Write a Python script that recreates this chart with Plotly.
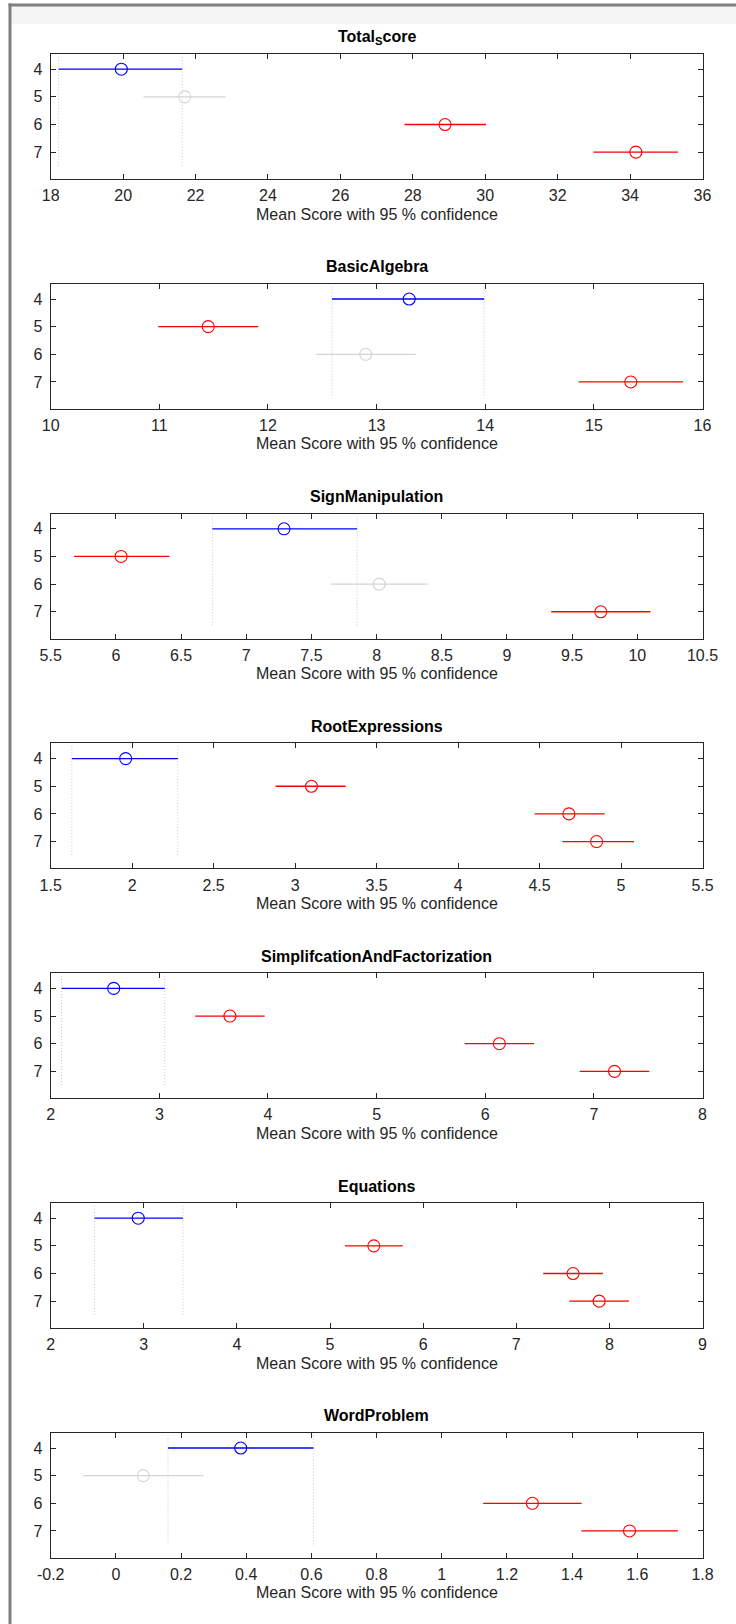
import plotly.graph_objects as go

W, H = 736, 1624

GROUPS = [4, 5, 6, 7]

SUBJECTS = ["Total<sub>S</sub>core", "BasicAlgebra", "SignManipulation", "RootExpressions",
            "SimplifcationAndFactorization", "Equations", "WordProblem"]

TOTAL_MEAN = [19.95, 21.70, 28.89, 34.16]
TOTAL_LO = [18.22, 20.56, 27.77, 32.99]
TOTAL_HI = [21.63, 22.83, 30.02, 35.32]
TOTAL_STATUS = ["selected", "ns", "sig", "sig"]

ALG_MEAN = [13.30, 11.45, 12.90, 15.34]
ALG_LO = [12.59, 10.99, 12.44, 14.86]
ALG_HI = [13.99, 11.91, 13.36, 15.82]
ALG_STATUS = ["selected", "sig", "ns", "sig"]

SIGN_MEAN = [7.29, 6.04, 8.02, 9.72]
SIGN_LO = [6.74, 5.68, 7.65, 9.34]
SIGN_HI = [7.85, 6.41, 8.39, 10.10]
SIGN_STATUS = ["selected", "sig", "ns", "sig"]

ROOT_MEAN = [1.96, 3.10, 4.68, 4.85]
ROOT_LO = [1.63, 2.88, 4.47, 4.64]
ROOT_HI = [2.28, 3.31, 4.90, 5.08]
ROOT_STATUS = ["selected", "sig", "sig", "sig"]

SIMP_MEAN = [2.58, 3.65, 6.13, 7.19]
SIMP_LO = [2.10, 3.33, 5.81, 6.87]
SIMP_HI = [3.05, 3.97, 6.45, 7.51]
SIMP_STATUS = ["selected", "sig", "sig", "sig"]

EQ_MEAN = [2.94, 5.47, 7.61, 7.89]
EQ_LO = [2.47, 5.16, 7.29, 7.57]
EQ_HI = [3.42, 5.78, 7.93, 8.21]
EQ_STATUS = ["selected", "sig", "sig", "sig"]

WORD_MEAN = [0.383, 0.084, 1.278, 1.576]
WORD_LO = [0.160, -0.100, 1.127, 1.428]
WORD_HI = [0.606, 0.269, 1.429, 1.725]
WORD_STATUS = ["selected", "ns", "sig", "sig"]

TOTAL_TICKS = [18, 20, 22, 24, 26, 28, 30, 32, 34, 36]
ALG_TICKS = [10, 11, 12, 13, 14, 15, 16]
SIGN_TICKS = [5.5, 6, 6.5, 7, 7.5, 8, 8.5, 9, 9.5, 10, 10.5]
ROOT_TICKS = [1.5, 2, 2.5, 3, 3.5, 4, 4.5, 5, 5.5]
SIMP_TICKS = [2, 3, 4, 5, 6, 7, 8]
EQ_TICKS = [2, 3, 4, 5, 6, 7, 8, 9]
WORD_TICKS = [-0.2, 0, 0.2, 0.4, 0.6, 0.8, 1, 1.2, 1.4, 1.6, 1.8]

XLABEL = "Mean Score with 95 % confidence"

panels = [
    (TOTAL_MEAN, TOTAL_LO, TOTAL_HI, TOTAL_STATUS, TOTAL_TICKS),
    (ALG_MEAN, ALG_LO, ALG_HI, ALG_STATUS, ALG_TICKS),
    (SIGN_MEAN, SIGN_LO, SIGN_HI, SIGN_STATUS, SIGN_TICKS),
    (ROOT_MEAN, ROOT_LO, ROOT_HI, ROOT_STATUS, ROOT_TICKS),
    (SIMP_MEAN, SIMP_LO, SIMP_HI, SIMP_STATUS, SIMP_TICKS),
    (EQ_MEAN, EQ_LO, EQ_HI, EQ_STATUS, EQ_TICKS),
    (WORD_MEAN, WORD_LO, WORD_HI, WORD_STATUS, WORD_TICKS),
]

COLORS = {"selected": "#0000ff", "ns": "#d4d4d4", "sig": "#ff0000"}

FONT = "Liberation Sans, Arial, sans-serif"
AX_COLOR = "#262626"

X0_PX, X1_PX = 50.7, 702.5
TOP0, STEP, PH = 54.0, 229.8, 125.0


def fmt(v):
    return "%g" % v


fig = go.Figure()
annotations = []
shapes = []

for k, (mean, lo, hi, status, ticks) in enumerate(panels):
    idx = "" if k == 0 else str(k + 1)
    xa, ya = "x" + idx, "y" + idx
    top = TOP0 + STEP * k
    bot = top + PH
    sel = status.index("selected")
    for xv in (lo[sel], hi[sel]):
        fig.add_trace(go.Scatter(x=[xv, xv], y=[3.55, 7.5], mode="lines",
                                 line=dict(color="#c8c8c8", width=1, dash="1px,2px"),
                                 xaxis=xa, yaxis=ya, showlegend=False, hoverinfo="skip"))
    for g, m, l, h, st in zip(GROUPS, mean, lo, hi, status):
        c = COLORS[st]
        fig.add_trace(go.Scatter(
            x=[m], y=[g], mode="markers",
            marker=dict(symbol="circle-open", size=12, color=c, line=dict(width=1.1, color=c)),
            error_x=dict(type="data", symmetric=False, array=[h - m], arrayminus=[m - l],
                         color=c, thickness=1.3, width=0),
            xaxis=xa, yaxis=ya, showlegend=False))
    dom_y = [1 - bot / H, 1 - top / H]
    dom_x = [X0_PX / W, X1_PX / W]
    fig.layout["xaxis" + idx] = dict(
        domain=dom_x, anchor=ya, range=[ticks[0], ticks[-1]],
        tickvals=ticks, ticktext=[fmt(t) for t in ticks],
        ticks="inside", ticklen=5, tickcolor=AX_COLOR, mirror="ticks",
        showline=True, linecolor=AX_COLOR, linewidth=1, showgrid=False, zeroline=False,
        ticklabelstandoff=2, automargin=False,
        tickfont=dict(family=FONT, size=16, color=AX_COLOR))
    fig.layout["yaxis" + idx] = dict(
        domain=dom_y, anchor=xa, range=[7.97, 3.45],
        tickvals=GROUPS, ticktext=[str(g) for g in GROUPS],
        ticks="inside", ticklen=5, tickcolor=AX_COLOR, mirror="ticks",
        showline=True, linecolor=AX_COLOR, linewidth=1, showgrid=False, zeroline=False,
        ticklabelstandoff=4, automargin=False,
        tickfont=dict(family=FONT, size=16, color=AX_COLOR))
    cx = (dom_x[0] + dom_x[1]) / 2
    annotations.append(dict(text="<b>" + SUBJECTS[k] + "</b>", x=cx, y=1 - (top - 17) / H,
                            xref="paper", yref="paper", showarrow=False, xanchor="center",
                            yanchor="middle", font=dict(family=FONT, size=16, color="#000000")))
    annotations.append(dict(text=XLABEL, x=cx, y=1 - (bot + 35) / H,
                            xref="paper", yref="paper", showarrow=False, xanchor="center",
                            yanchor="middle", font=dict(family=FONT, size=16, color=AX_COLOR)))

# figure window frame (grey border at top and left, light band under top edge)
shapes.append(dict(type="rect", xref="paper", yref="paper", x0=11 / W, x1=1.0, y0=1 - 24 / H, y1=1 - 6 / H,
                   fillcolor="#f5f5f5", line=dict(width=0), layer="below"))
shapes.append(dict(type="rect", xref="paper", yref="paper", x0=8.5 / W, x1=11.5 / W, y0=0, y1=1 - 3.5 / H,
                   fillcolor="#7f7f7f", line=dict(width=0), layer="above"))
shapes.append(dict(type="rect", xref="paper", yref="paper", x0=8.5 / W, x1=1.0, y0=1 - 6.5 / H, y1=1 - 3.5 / H,
                   fillcolor="#7f7f7f", line=dict(width=0), layer="above"))

fig.update_layout(width=W, height=H, autosize=False,
                  margin=dict(l=0, r=0, t=0, b=0, pad=0, autoexpand=False),
                  paper_bgcolor="white", plot_bgcolor="white",
                  annotations=annotations, shapes=shapes,
                  font=dict(family=FONT, size=16, color=AX_COLOR))

post = ("document.body.style.margin='0';document.body.style.padding='0';"
        "document.body.style.overflow='hidden';"
        "document.documentElement.style.overflow='hidden';"
        "var gd=document.getElementById('{plot_id}');"
        "Plotly.relayout(gd,{width:%d,height:%d});" % (W, H))

fig.write_html("out.html", config={"displayModeBar": False, "responsive": False},
               default_width="%dpx" % W, default_height="%dpx" % H,
               post_script=post)
